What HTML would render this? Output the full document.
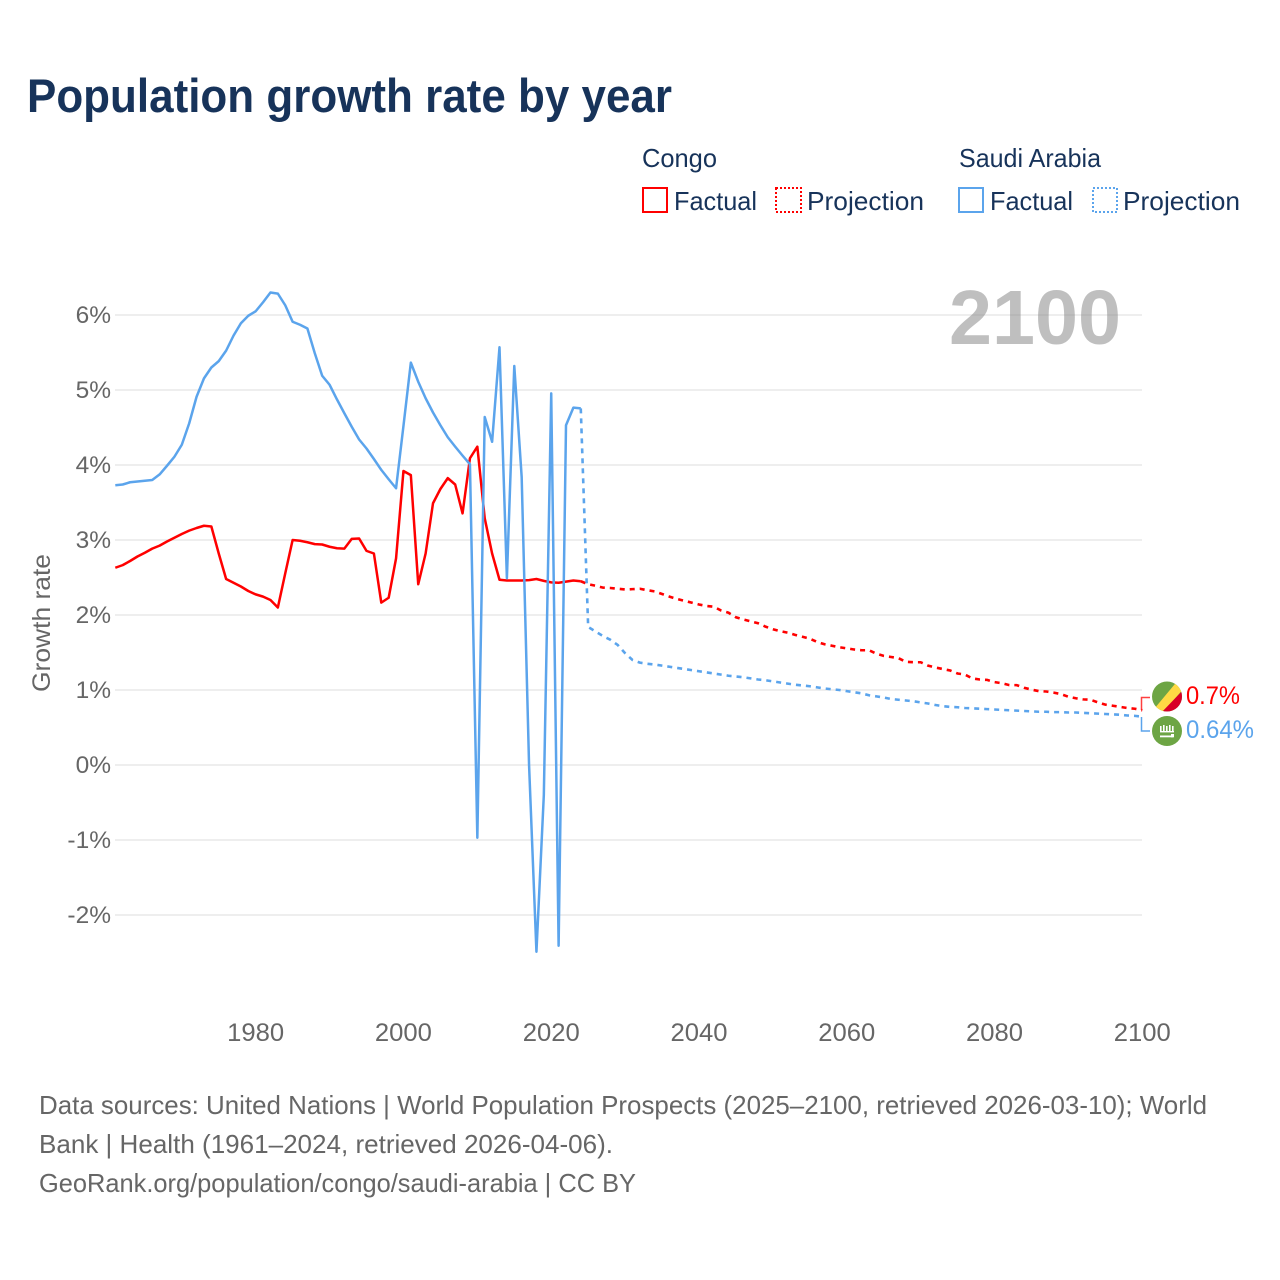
<!DOCTYPE html>
<html lang="en">
<head>
<meta charset="utf-8">
<title>Population growth rate by year</title>
<style>
html,body{margin:0;padding:0;background:#fff;}
svg{display:block;font-family:"Liberation Sans",sans-serif;}
</style>
</head>
<body>
<svg id="chart" xmlns="http://www.w3.org/2000/svg" width="1280" height="1280" viewBox="0 0 1280 1280">
  <rect x="0" y="0" width="1280" height="1280" fill="#fff"/>
  <text x="27" y="112" font-size="47" font-weight="700" fill="#17335a" textLength="645" lengthAdjust="spacingAndGlyphs">Population growth rate by year</text>

  <g font-size="26" fill="#17335a">
    <text x="642" y="167" textLength="75" lengthAdjust="spacingAndGlyphs">Congo</text>
    <text x="959" y="167" textLength="142" lengthAdjust="spacingAndGlyphs">Saudi Arabia</text>
    <rect x="643" y="188" width="24" height="24" fill="none" stroke="#ff0000" stroke-width="2"/>
    <text x="674" y="210" textLength="83" lengthAdjust="spacingAndGlyphs">Factual</text>
    <rect x="776" y="188" width="25" height="24" fill="none" stroke="#ff0000" stroke-width="2" stroke-dasharray="2 2"/>
    <text x="807" y="210" textLength="117" lengthAdjust="spacingAndGlyphs">Projection</text>
    <rect x="959" y="188" width="24" height="24" fill="none" stroke="#5ba4ec" stroke-width="2"/>
    <text x="990" y="210" textLength="83" lengthAdjust="spacingAndGlyphs">Factual</text>
    <rect x="1093" y="188" width="24" height="24" fill="none" stroke="#5ba4ec" stroke-width="2" stroke-dasharray="2 2"/>
    <text x="1123" y="210" textLength="117" lengthAdjust="spacingAndGlyphs">Projection</text>
  </g>

  <g id="grid"></g>
  <g id="yticks"></g>
  <g id="xticks"></g>
  <text transform="translate(50,623) rotate(-90)" text-anchor="middle" font-size="25" fill="#666" textLength="138" lengthAdjust="spacingAndGlyphs">Growth rate</text>
  <text x="949" y="344" font-size="77" font-weight="700" fill="#808080" fill-opacity="0.5" textLength="172" lengthAdjust="spacingAndGlyphs">2100</text>

  <g id="series"></g>

  <path d="M1141.5 710V697.5H1150" fill="none" stroke="#ff0000" stroke-opacity="0.75" stroke-width="1.5"/>
  <path d="M1141.5 717V731H1150" fill="none" stroke="#5ba4ec" stroke-width="1.5"/>

  <g>
    <clipPath id="clipCongo"><circle cx="1167" cy="696.5" r="15"/></clipPath>
    <g clip-path="url(#clipCongo)">
      <rect x="1150" y="680" width="34" height="34" fill="#6da544"/>
      <polygon points="1152,711.5 1177,681.5 1184,688 1161,715" fill="#ffda44"/>
      <polygon points="1184,689 1186,714 1160,714" fill="#d80027"/>
    </g>
  </g>
  <g>
    <circle cx="1167" cy="731" r="15" fill="#6da544"/>
    <g fill="#fff">
      <rect x="1160" y="726" width="1.6" height="6"/>
      <rect x="1163" y="725" width="1.6" height="7"/>
      <rect x="1166" y="726" width="1.6" height="6"/>
      <rect x="1169" y="725" width="1.6" height="7"/>
      <rect x="1172" y="726" width="1.6" height="6"/>
      <rect x="1160" y="731" width="14" height="1.4"/>
      <rect x="1160" y="735.5" width="13" height="1.8"/>
      <rect x="1171" y="734" width="3" height="3.3"/>
    </g>
  </g>
  <text x="1186" y="704" font-size="25" fill="#ff0000" textLength="54" lengthAdjust="spacingAndGlyphs">0.7%</text>
  <text x="1186" y="738" font-size="25" fill="#5ba4ec" textLength="68" lengthAdjust="spacingAndGlyphs">0.64%</text>

  <g font-size="26" fill="#666">
    <text x="39" y="1114" textLength="1168" lengthAdjust="spacingAndGlyphs">Data sources: United Nations | World Population Prospects (2025–2100, retrieved 2026-03-10); World</text>
    <text x="39" y="1153" textLength="574" lengthAdjust="spacingAndGlyphs">Bank | Health (1961–2024, retrieved 2026-04-06).</text>
    <text x="39" y="1192" textLength="597" lengthAdjust="spacingAndGlyphs">GeoRank.org/population/congo/saudi-arabia | CC BY</text>
  </g>
</svg>
<script>
const factualStartYear = 1961;
const projectionStartYear = 2024;
const yTickValues = [6, 5, 4, 3, 2, 1, 0, -1, -2];
const xTickYears = [1980, 2000, 2020, 2040, 2060, 2080, 2100];
const congoFactual = [2.63,2.665,2.72,2.78,2.83,2.885,2.925,2.98,3.03,3.08,3.125,3.16,3.19,3.18,2.82,2.48,2.43,2.38,2.32,2.275,2.245,2.20,2.10,2.555,3.0,2.99,2.97,2.945,2.94,2.91,2.89,2.885,3.015,3.02,2.855,2.82,2.165,2.23,2.755,3.92,3.865,2.41,2.82,3.49,3.68,3.825,3.74,3.355,4.09,4.245,3.29,2.82,2.47,2.46,2.46,2.46,2.465,2.48,2.455,2.435,2.43,2.445,2.46,2.45];
const congoProjection = [2.45,2.41,2.39,2.365,2.36,2.35,2.34,2.345,2.35,2.33,2.315,2.28,2.245,2.215,2.19,2.165,2.14,2.12,2.11,2.06,2.03,1.97,1.94,1.915,1.89,1.845,1.81,1.785,1.765,1.735,1.71,1.685,1.64,1.61,1.59,1.57,1.555,1.54,1.53,1.53,1.485,1.455,1.44,1.425,1.375,1.37,1.37,1.325,1.30,1.28,1.26,1.22,1.205,1.155,1.14,1.135,1.105,1.09,1.065,1.065,1.03,1.005,0.985,0.98,0.965,0.945,0.91,0.89,0.875,0.87,0.835,0.805,0.79,0.775,0.76,0.75,0.73];
const saudiFactual = [3.73,3.74,3.77,3.78,3.79,3.80,3.875,3.99,4.11,4.27,4.555,4.91,5.155,5.30,5.385,5.525,5.725,5.89,5.99,6.05,6.17,6.30,6.285,6.13,5.91,5.87,5.82,5.49,5.19,5.07,4.875,4.69,4.51,4.34,4.22,4.08,3.935,3.81,3.69,4.52,5.365,5.11,4.89,4.70,4.53,4.37,4.245,4.125,4.01,-0.97,4.64,4.31,5.57,2.49,5.32,3.84,0.0,-2.49,-0.4,4.955,-2.41,4.53,4.765,4.755];
const saudiProjection = [4.755,1.84,1.78,1.72,1.67,1.60,1.49,1.40,1.365,1.35,1.34,1.325,1.31,1.295,1.28,1.265,1.25,1.235,1.22,1.205,1.19,1.18,1.17,1.155,1.14,1.13,1.115,1.10,1.085,1.07,1.06,1.05,1.035,1.02,1.01,1.0,0.985,0.97,0.955,0.93,0.915,0.90,0.88,0.87,0.86,0.85,0.835,0.82,0.80,0.785,0.775,0.77,0.76,0.755,0.75,0.745,0.74,0.735,0.73,0.725,0.72,0.715,0.71,0.71,0.705,0.705,0.70,0.70,0.695,0.69,0.685,0.68,0.675,0.67,0.66,0.655,0.645];

const NS = 'http://www.w3.org/2000/svg';
function xScale(year) { return 115.3 + (year - 1961) * (1142.3 - 115.3) / (2100 - 1961); }
function yScale(value) { return 765 - value * 75; }
function make(tag, attrs, parent) {
  const el = document.createElementNS(NS, tag);
  for (const k in attrs) el.setAttribute(k, attrs[k]);
  parent.appendChild(el);
  return el;
}
function linePath(values, startYear) {
  return values.map(function (v, i) {
    return (i ? 'L' : 'M') + xScale(startYear + i).toFixed(2) + ' ' + yScale(v).toFixed(2);
  }).join('');
}

const grid = document.getElementById('grid');
const yticks = document.getElementById('yticks');
yTickValues.forEach(function (v) {
  const line = make('line', { x1: 115, x2: 1142, y1: yScale(v), y2: yScale(v), stroke: '#ececec', 'stroke-width': 1.8 }, grid);
  
  
  const label = make('text', { x: 111, y: yScale(v) + 8, 'text-anchor': 'end', 'font-size': 24.5, fill: '#666' }, yticks);
  
  
  label.textContent = v + '%';
});

const xticks = document.getElementById('xticks');
xTickYears.forEach(function (year) {
  const label = make('text', { x: xScale(year), y: 1041, 'text-anchor': 'middle', 'font-size': 25, fill: '#666', textLength: 57, lengthAdjust: 'spacingAndGlyphs' }, xticks);
  
  
  label.textContent = String(year);
});

const series = document.getElementById('series');
const congoFactualLine = make('path', { d: linePath(congoFactual, factualStartYear), fill: 'none', stroke: '#ff0000', 'stroke-width': 2.5, 'stroke-linejoin': 'round' }, series);


const congoProjectionLine = make('path', { d: linePath(congoProjection, projectionStartYear), fill: 'none', stroke: '#ff0000', 'stroke-width': 2.6, 'stroke-dasharray': '5 5' }, series);


const saudiFactualLine = make('path', { d: linePath(saudiFactual, factualStartYear), fill: 'none', stroke: '#5ba4ec', 'stroke-width': 2.5, 'stroke-linejoin': 'round' }, series);


const saudiProjectionLine = make('path', { d: linePath(saudiProjection, projectionStartYear), fill: 'none', stroke: '#5ba4ec', 'stroke-width': 2.6, 'stroke-dasharray': '5 5' }, series);


</script>
</body>
</html>
